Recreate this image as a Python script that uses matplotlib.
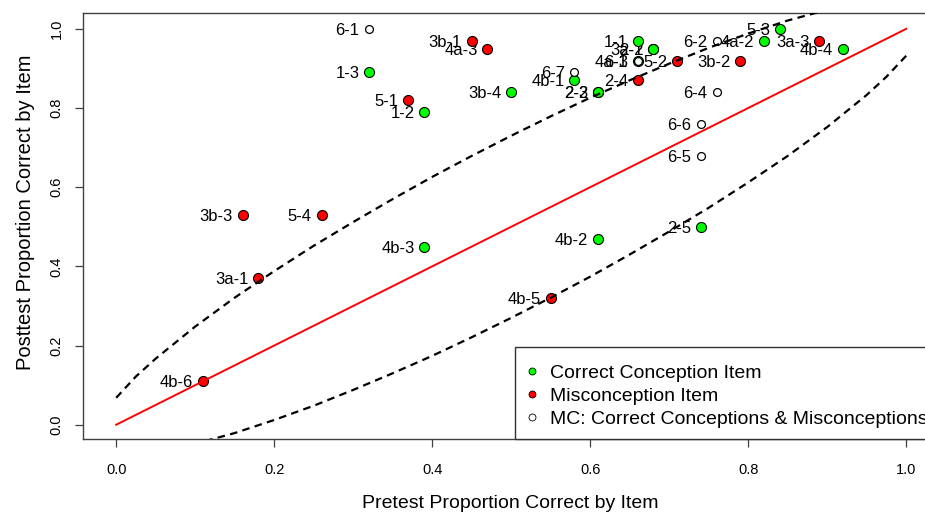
import matplotlib
matplotlib.use("Agg")
import matplotlib.pyplot as plt
from matplotlib.lines import Line2D
from matplotlib.patches import Rectangle

plt.rcParams['font.family'] = ['Liberation Sans', 'DejaVu Sans']

# ---- data: item labels, pretest / posttest proportion correct, item type ----
correct_labels = ["1-1", "1-2", "1-3", "2-1", "2-2", "2-3", "2-5", "3a-2", "3b-4", "4a-1",
                  "4a-2", "4b-1", "4b-2", "4b-3", "4b-4", "5-3"]
correct_pre = [0.66, 0.39, 0.32, 0.68, 0.61, 0.61, 0.74, 0.68, 0.50, 0.66,
               0.82, 0.58, 0.61, 0.39, 0.92, 0.84]
correct_post = [0.97, 0.79, 0.89, 0.95, 0.84, 0.84, 0.50, 0.95, 0.84, 0.92,
                0.97, 0.87, 0.47, 0.45, 0.95, 1.00]

mis_labels = ["2-4", "3a-1", "3a-3", "3b-1", "3b-2", "3b-3", "4a-3", "4b-5", "4b-6",
              "5-1", "5-2", "5-4"]
mis_pre = [0.66, 0.18, 0.89, 0.45, 0.79, 0.16, 0.47, 0.55, 0.11, 0.37, 0.71, 0.26]
mis_post = [0.87, 0.37, 0.97, 0.97, 0.92, 0.53, 0.95, 0.32, 0.11, 0.82, 0.92, 0.53]

mc_labels = ["6-1", "6-2", "6-3", "6-4", "6-5", "6-6", "6-7"]
mc_pre = [0.32, 0.76, 0.66, 0.76, 0.74, 0.74, 0.58]
mc_post = [1.00, 0.97, 0.92, 0.84, 0.68, 0.76, 0.89]

# reference line (pretest = posttest)
ref_x = [0.0, 1.0]
ref_y = [0.0, 1.0]

# dashed band curves
band_x = [0.0, 0.025, 0.05, 0.10, 0.15, 0.20, 0.25, 0.30, 0.35, 0.40, 0.45, 0.50,
          0.55, 0.60, 0.65, 0.70, 0.75, 0.80, 0.85, 0.90, 0.95, 0.975, 1.0]
band_upper = [0.068, 0.122, 0.167, 0.248, 0.321, 0.388, 0.452, 0.512, 0.570, 0.626,
              0.679, 0.730, 0.779, 0.826, 0.870, 0.912, 0.952, 0.988, 1.021, 1.048,
              1.067, 1.072, 1.068]
band_lower = [-0.068, -0.072, -0.067, -0.048, -0.021, 0.012, 0.048, 0.088, 0.130,
              0.174, 0.221, 0.270, 0.321, 0.374, 0.430, 0.488, 0.548, 0.612, 0.679,
              0.752, 0.833, 0.879, 0.932]

x_ticks = [0.0, 0.2, 0.4, 0.6, 0.8, 1.0]
y_ticks = [0.0, 0.2, 0.4, 0.6, 0.8, 1.0]

legend_labels = ["Correct Conception Item", "Misconception Item",
                 "MC: Correct Conceptions & Misconceptions"]

# ---- figure ----
W, H = 925, 512
fig = plt.figure(figsize=(W / 100, H / 100), dpi=100)
left, right, top, bottom = 83, 937.8, 13, 439
ax = fig.add_axes([left / W, (H - bottom) / H, (right - left) / W, (bottom - top) / H])
ax.set_xlim(-0.042, 1.040)
ax.set_ylim(-0.036, 1.040)

edge = "#404040"
for s in ax.spines.values():
    s.set_color(edge)
    s.set_linewidth(1.0)

ax.scatter(correct_pre, correct_post, s=52, c="#00ff00", edgecolors="black",
           linewidths=0.8, zorder=3)
ax.scatter(mis_pre, mis_post, s=52, c="#ff0000", edgecolors="black",
           linewidths=0.8, zorder=3)
ax.scatter(mc_pre, mc_post, s=32, c="white", edgecolors="black",
           linewidths=0.9, zorder=4)

for labs, xs, ys in [(correct_labels, correct_pre, correct_post),
                     (mis_labels, mis_pre, mis_post),
                     (mc_labels, mc_pre, mc_post)]:
    for lab, xv, yv in zip(labs, xs, ys):
        ax.annotate(lab, (xv, yv), xytext=(-7, 0), textcoords="offset points",
                    ha="right", va="center_baseline", fontsize=12, color="black",
                    zorder=2, annotation_clip=False)

ax.plot(ref_x, ref_y, color="#ff0000", lw=1.4, zorder=5)
for yy in (band_upper, band_lower):
    ax.plot(band_x, yy, color="black", lw=1.6, linestyle=(0, (3.4, 2.4)), zorder=5)

ax.set_xticks(x_ticks)
ax.set_xticklabels([f"{v:.1f}" for v in x_ticks], fontsize=10.5)
ax.set_yticks(y_ticks)
ax.set_yticklabels([f"{v:.1f}" for v in y_ticks], fontsize=10.5, rotation=90, va="center")
ax.tick_params(axis="both", direction="out", length=6, width=0.9, color=edge)
ax.tick_params(axis="x", pad=11)
ax.tick_params(axis="y", pad=8)

fig.text(510 / W, 1 - 503 / H, "Pretest Proportion Correct by Item",
         ha="center", va="center", fontsize=14)
fig.text(26 / W, 1 - 212 / H, "Posttest Proportion Correct by Item",
         ha="center", va="center", rotation=90, fontsize=14.5)

# legend frame (box reaching the plot's bottom edge)
ax.add_patch(Rectangle((515 / W, (H - 439) / H), (945 - 515) / W, (439 - 347) / H,
                       transform=fig.transFigure, facecolor="white", edgecolor="#303030",
                       linewidth=1.0, clip_on=False, zorder=5.5))

handles = [
    Line2D([], [], marker="o", linestyle="none", markersize=5, markerfacecolor="#00ff00",
           markeredgecolor="black", markeredgewidth=0.6),
    Line2D([], [], marker="o", linestyle="none", markersize=5, markerfacecolor="#ff0000",
           markeredgecolor="black", markeredgewidth=0.6),
    Line2D([], [], marker="o", linestyle="none", markersize=5, markerfacecolor="white",
           markeredgecolor="black", markeredgewidth=0.6),
]
leg = ax.legend(handles, legend_labels, loc="upper left",
                bbox_to_anchor=(515 / W, 1 - 352.5 / H), bbox_transform=fig.transFigure,
                fontsize=14, frameon=False, borderpad=0.6, labelspacing=0.28,
                handlelength=0.5, handletextpad=0.7, borderaxespad=0)
leg.set_zorder(6)

fig.savefig("out.png", dpi=100)
